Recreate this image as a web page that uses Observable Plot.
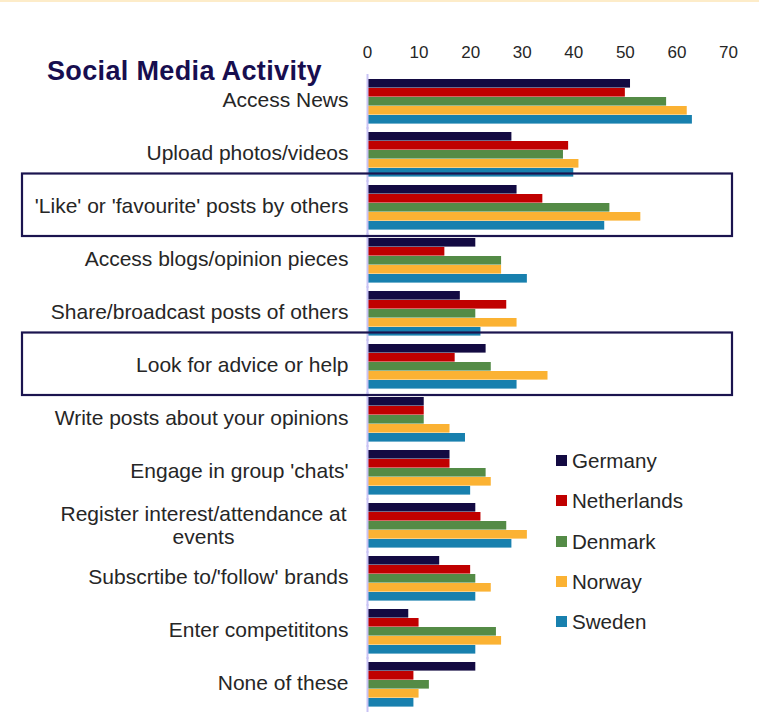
<!DOCTYPE html>
<html>
<head>
<meta charset="utf-8">
<script src="https://cdn.jsdelivr.net/npm/d3@7"></script>
<script src="https://cdn.jsdelivr.net/npm/@observablehq/plot@0.6"></script>
<style>
  html, body { margin: 0; padding: 0; background: #fff; }
  #wrap { position: relative; width: 759px; height: 713px; overflow: hidden; font-family: "Liberation Sans", Arial, sans-serif; }
  #topline { position: absolute; left: 0; top: 0; width: 759px; height: 2px; background: #fdecc9; }
  #title { position: absolute; left: 47px; top: 56px; font-size: 27px; font-weight: bold; color: #170e4f; white-space: nowrap; letter-spacing: 0.35px; }
  #legend { position: absolute; left: 556px; top: 449px; }
  .li { height: 40.3px; display: flex; align-items: flex-start; font-size: 20.6px; color: #262626; }
  .sw { width: 11px; height: 11px; margin-top: 6px; margin-right: 5px; }
  #chart { position: absolute; left: 0; top: 0; }
  #chart text.cat { letter-spacing: 0.2px; }
</style>
</head>
<body>
<div id="wrap">
  <div id="chart"></div>
  <div id="topline"></div>
  <div id="title">Social Media Activity</div>
  <div id="legend"></div>
</div>
<script>
const categories = [
  "Access News",
  "Upload photos/videos",
  "'Like' or 'favourite' posts by others",
  "Access blogs/opinion pieces",
  "Share/broadcast posts of others",
  "Look for advice or help",
  "Write posts about your opinions",
  "Engage in group 'chats'",
  "Register interest/attendance at events",
  "Subscrtibe to/'follow' brands",
  "Enter competititons",
  "None of these"
];
const countries = ["Germany", "Netherlands", "Denmark", "Norway", "Sweden"];
const colors = ["#130a42", "#c00000", "#548b46", "#fbb233", "#1880ae"];
const germany     = [51, 28, 29, 21, 18, 23, 11, 16, 21, 14,  8, 21];
const netherlands = [50, 39, 34, 15, 27, 17, 11, 16, 22, 20, 10,  9];
const denmark     = [58, 38, 47, 26, 21, 24, 11, 23, 27, 21, 25, 12];
const norway      = [62, 41, 53, 26, 29, 35, 16, 24, 31, 24, 26, 10];
const sweden      = [63, 40, 46, 31, 22, 29, 19, 20, 28, 21, 21,  9];
const xTicks = [0, 10, 20, 30, 40, 50, 60, 70];
const highlighted = ["'Like' or 'favourite' posts by others", "Look for advice or help"];
const wrappedCategory = "Register interest/attendance at events";
const wrappedText = "Register interest/attendance at\nevents";

const series = [germany, netherlands, denmark, norway, sweden];
const data = categories.flatMap((c, i) =>
  countries.map((k, j) => ({category: c, country: k, value: series[j][i]}))
);

const chart = Plot.plot({
  width: 759,
  height: 713,
  marginLeft: 367,
  marginRight: 31,
  marginTop: 74,
  marginBottom: 1,
  style: {fontFamily: "'Liberation Sans', Arial, sans-serif", background: "transparent"},
  x: {domain: [0, 70], axis: null},
  fy: {domain: categories, paddingInner: 0.12, paddingOuter: 0.06, axis: null},
  y: {domain: countries, axis: null, padding: 0},
  color: {domain: countries, range: colors},
  marks: [
    Plot.barX(data, {fy: "category", y: "country", x: "value", fill: "country", insetBottom: 0.4}),
    Plot.ruleX([0], {stroke: "#c9c3f4", strokeWidth: 2, insetTop: -4, insetBottom: -4}),
    Plot.axisX(xTicks, {anchor: "top", tickSize: 0, tickPadding: 21, fontSize: 17, fill: "#262626", label: null, tickFormat: d => String(d)}),
    Plot.barX(highlighted, {fy: d => d, x1: 0, x2: 70, fill: "none", stroke: "#1b144f", strokeWidth: 2.2, insetLeft: -345, insetRight: -4, insetTop: -10.5, insetBottom: -5}),
    Plot.text(categories.filter(c => c !== wrappedCategory), {fy: d => d, text: d => d, frameAnchor: "left", textAnchor: "end", dx: -19, dy: -1.5, fontSize: 21, fill: "#262626", className: "cat"}),
    Plot.text([wrappedCategory], {fy: d => d, text: () => wrappedText, frameAnchor: "left", textAnchor: "middle", dx: -164, dy: -1, fontSize: 21, lineHeight: 1.1, fill: "#262626", className: "cat"})
  ]
});
document.getElementById("chart").appendChild(chart);

const legend = document.getElementById("legend");
countries.forEach((k, j) => {
  const item = document.createElement("div");
  item.className = "li";
  const sw = document.createElement("div");
  sw.className = "sw";
  sw.style.background = colors[j];
  const t = document.createElement("span");
  t.textContent = k;
  item.appendChild(sw);
  item.appendChild(t);
  legend.appendChild(item);
});
</script>
</body>
</html>
